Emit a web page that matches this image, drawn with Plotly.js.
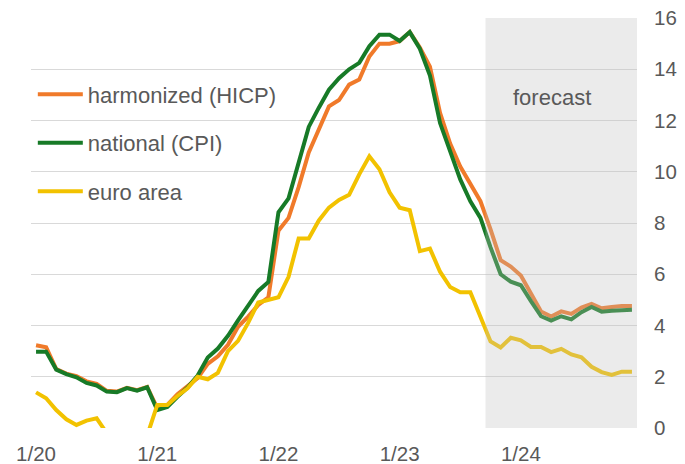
<!DOCTYPE html>
<html>
<head>
<meta charset="utf-8">
<script src="https://cdn.plot.ly/plotly-3.0.1.min.js"></script>
<style>html,body{margin:0;padding:0;background:#fff;}#chart{width:685px;height:464px;}</style>
</head>
<body>
<div id="chart"></div>
<script>
// monthly categories, Jan 2020 – Dec 2024
const months = [
  "2020-01","2020-02","2020-03","2020-04","2020-05","2020-06","2020-07","2020-08","2020-09","2020-10","2020-11","2020-12",
  "2021-01","2021-02","2021-03","2021-04","2021-05","2021-06","2021-07","2021-08","2021-09","2021-10","2021-11","2021-12",
  "2022-01","2022-02","2022-03","2022-04","2022-05","2022-06","2022-07","2022-08","2022-09","2022-10","2022-11","2022-12",
  "2023-01","2023-02","2023-03","2023-04","2023-05","2023-06","2023-07","2023-08","2023-09","2023-10","2023-11","2023-12",
  "2024-01","2024-02","2024-03","2024-04","2024-05","2024-06","2024-07","2024-08","2024-09","2024-10","2024-11","2024-12"
];
const tickMonths = ["2020-01","2021-01","2022-01","2023-01","2024-01"];
const tickLabels = ["1/20","1/21","1/22","1/23","1/24"];
const forecastFrom = "2023-10";
const forecastLabel = "forecast";

const harmonized = [
  3.23,3.15,2.30,2.12,2.02,1.82,1.72,1.45,1.42,1.57,1.48,1.60,
  0.78,0.90,1.32,1.62,1.95,2.50,2.80,3.25,3.95,4.35,4.80,5.10,
  7.70,8.20,9.40,10.75,11.65,12.55,12.80,13.40,13.60,14.50,15.00,15.00,
  15.10,15.45,14.85,14.10,12.30,11.10,10.20,9.55,8.85,7.75,6.55,6.30,
  5.95,5.25,4.55,4.35,4.55,4.45,4.70,4.84,4.67,4.72,4.76,4.76
];
const national = [
  2.98,2.98,2.28,2.10,1.98,1.76,1.66,1.42,1.40,1.56,1.46,1.59,
  0.70,0.82,1.22,1.58,2.05,2.75,3.10,3.60,4.20,4.80,5.35,5.70,
  8.42,8.96,10.30,11.75,12.50,13.20,13.65,14.00,14.25,14.90,15.35,15.35,
  15.10,15.45,14.80,13.75,11.90,10.85,9.70,8.85,8.20,7.05,6.00,5.71,
  5.57,4.95,4.36,4.19,4.36,4.24,4.52,4.72,4.54,4.58,4.61,4.61
];
const euroArea = [
  1.39,1.16,0.70,0.34,0.12,0.29,0.38,-0.20,-0.30,-0.30,-0.30,-0.30,
  0.90,0.90,1.25,1.55,2.00,1.90,2.15,3.00,3.40,4.10,4.90,5.00,
  5.10,5.90,7.40,7.40,8.10,8.60,8.90,9.10,9.90,10.60,10.10,9.20,
  8.60,8.50,6.90,7.00,6.10,5.50,5.30,5.30,4.30,3.38,3.14,3.52,
  3.42,3.16,3.16,2.96,3.09,2.87,2.76,2.39,2.18,2.07,2.20,2.20
];
const seriesNames = ["harmonized (HICP)","national (CPI)","euro area"];

const fontFam = '"Liberation Sans", Arial, sans-serif';
const textCol = '#595959';

const mk = (y, name, color, grp) => ({
  type: 'scatter', mode: 'lines', x: months, y: y, name: name,
  legendgroup: grp, line: {color: color, width: 4}, hoverinfo: 'skip'
});

const traces = [
  mk(harmonized, seriesNames[0], '#f07a2a', 'a'),
  mk(national, seriesNames[1], '#177a27', 'b'),
  mk(euroArea, seriesNames[2], '#f2c200', 'c')
];

const fIdx = months.indexOf(forecastFrom);
const lastIdx = months.length - 1;

const layout = {
  width: 685, height: 464,
  margin: {l: 31, r: 48, t: 18, b: 36, pad: 0},
  paper_bgcolor: '#ffffff', plot_bgcolor: '#ffffff',
  font: {family: fontFam, color: textCol, size: 20},
  showlegend: true,
  legend: {
    x: 0.003, y: 0.865, xanchor: 'left', yanchor: 'top',
    bgcolor: 'rgba(0,0,0,0)', borderwidth: 0,
    font: {family: fontFam, size: 22, color: textCol},
    tracegroupgap: 17, itemwidth: 45, traceorder: 'grouped'
  },
  xaxis: {
    type: 'category', categoryorder: 'array', categoryarray: months,
    range: [-0.5, lastIdx + 0.5],
    showgrid: false, zeroline: false, showline: false, ticks: '',
    tickmode: 'array', tickvals: tickMonths, ticktext: tickLabels,
    tickfont: {family: fontFam, size: 20.5, color: textCol},
    ticklabelstandoff: 11
  },
  yaxis: {
    side: 'right', range: [0, 16], dtick: 2, tick0: 0,
    showgrid: true, gridcolor: '#d9d9d9', gridwidth: 1,
    zeroline: false, showline: false, ticks: '',
    tickfont: {family: fontFam, size: 20.5, color: textCol},
    ticklabelstandoff: 16
  },
  shapes: [{
    type: 'rect', xref: 'x', yref: 'paper',
    x0: fIdx - 0.5, x1: lastIdx + 0.5, y0: 0, y1: 1,
    fillcolor: 'rgba(190,190,190,0.31)', line: {width: 0}, layer: 'above'
  }],
  annotations: [{
    xref: 'x', yref: 'y', x: fIdx + 6.1, y: 12.9,
    text: forecastLabel, showarrow: false,
    font: {family: fontFam, size: 22, color: textCol},
    xanchor: 'center', yanchor: 'middle'
  }]
};

Plotly.newPlot('chart', traces, layout, {displayModeBar: false, staticPlot: true});
</script>
</body>
</html>
